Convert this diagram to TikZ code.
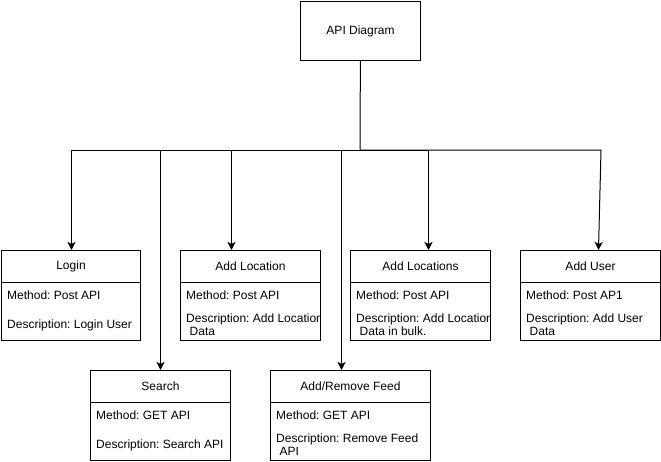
\documentclass[tikz,border=0pt]{standalone}
\usepackage{fontspec}
\setmainfont{Liberation Sans}
\usetikzlibrary{arrows.meta,calc}
\frenchspacing
\newcommand\apibox[7]{%
  % #1 name, #2 x, #3 y (top), #4 width, #5 title, #6 method, #7 description
  \node[box, minimum width=#4, minimum height=32] (#1) at (#2,#3) {};
  \node[box, minimum width=#4, minimum height=58] (#1b) at (#2,#3+32) {};
  \node[ttl] (#1t) at (#1.center) {#5};
  \begin{scope}
    \clip (#2,#3+32) rectangle (#2+#4,#3+90);
    \node[txt] (#1m) at (#2+6,#3+45) {#6};
    \node[txt, align=left] (#1d) at (#2+6,#3+75) {#7};
  \end{scope}
}
\begin{document}
\begin{tikzpicture}[x=1pt,y=-1pt,
  box/.style={draw, line width=1pt, inner sep=0pt, anchor=north west},
  txt/.style={anchor=west, inner sep=0pt, font=\fontsize{12}{13}\selectfont\frenchspacing},
  ttl/.style={inner sep=0pt, font=\fontsize{12}{13}\selectfont},
  conn/.style={line width=1pt},
  arr/.style={line width=1pt, -{Stealth[length=8pt,width=8pt,inset=2pt]}}]
\useasboundingbox (0,0) rectangle (661,461);
\fill[white] (0,0) rectangle (661,461);

\node[box, minimum width=120, minimum height=59] (api) at (300,1) {};
\node[ttl] (apit) at (api.center) {API Diagram};

\apibox{login}{1}{250}{139}{Login}{Method: Post API}{Description: Login User}
\apibox{addloc}{180}{250}{140}{Add Location}{Method: Post API}{Description: Add Location\\\hspace*{3.5pt}Data}
\apibox{addlocs}{350}{250}{140}{Add Locations}{Method: Post API}{Description: Add Location\\\hspace*{3.5pt}Data in bulk.}
\apibox{adduser}{520}{250}{140}{Add User}{Method: Post AP1}{Description: Add User\\\hspace*{3.5pt}Data}
\apibox{search}{90}{370}{140}{Search}{Method: GET API}{Description: Search API}
\apibox{feed}{270}{370}{160}{Add/Remove Feed}{Method: GET API}{Description: Remove Feed\\\hspace*{3.5pt}API}

\coordinate (hub) at (360,150);
\draw[conn] (api) -- (hub);
\draw[arr] (hub) -| ([xshift=0.5pt]login.north);
\draw[arr] (hub) -| (search.north);
\draw[arr] (hub) -| ([xshift=-19pt]addloc.north);
\draw[arr] (hub) -| ([xshift=-9pt]feed.north);
\draw[arr] (hub) -| ([xshift=8pt]addlocs.north);
\draw[arr] (hub) -- ++(241,0) -- ([xshift=8pt]adduser.north);
\end{tikzpicture}
\end{document}
